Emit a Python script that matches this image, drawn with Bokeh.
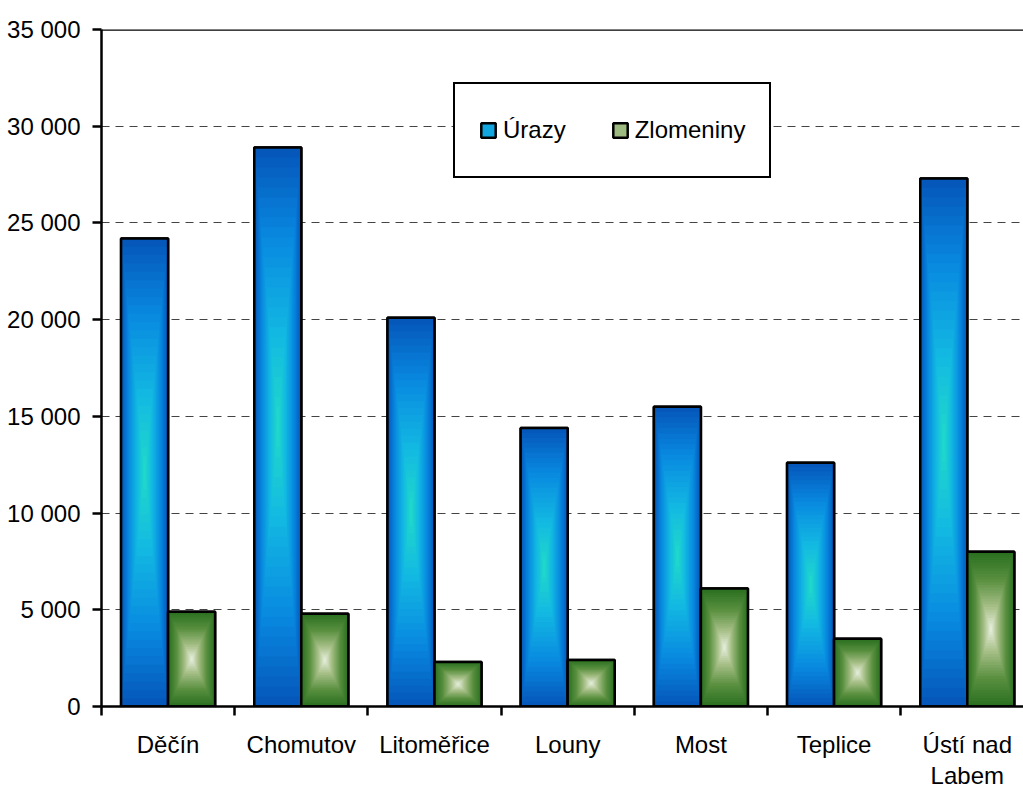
import numpy as np
from bokeh.plotting import figure
from bokeh.models import (FixedTicker, Legend, LegendItem, Span, Range1d)
from bokeh.embed import file_html
from bokeh.resources import INLINE

# ---- data ----
categories = ["Děčín", "Chomutov", "Litoměřice", "Louny", "Most", "Teplice", "Ústí nad\nLabem"]
urazy = [24200, 28900, 20100, 14400, 15500, 12600, 27300]
zlomeniny = [4900, 4800, 2300, 2400, 6100, 3500, 8000]
series_names = ["Úrazy", "Zlomeniny"]
y_ticks = [0, 5000, 10000, 15000, 20000, 25000, 30000, 35000]
y_tick_labels = ["0", "5 000", "10 000", "15 000", "20 000", "25 000", "30 000", "35 000"]

FONT = "Liberation Sans"
FS = "24px"

p = figure(width=1023, height=791, output_backend="svg", toolbar_location=None,
           x_range=Range1d(-0.5, 6.422), y_range=Range1d(0, 35000),
           min_border_left=101, min_border_right=0, min_border_top=29, min_border_bottom=0)
p.outline_line_color = None
p.background_fill_color = "white"
p.border_fill_color = "white"

bar_w = 0.353
off = 0.1765
xs = np.arange(len(categories), dtype=float)


def lerp_palette(stops, t):
    for i in range(len(stops) - 1):
        p0, c0 = stops[i]
        p1, c1 = stops[i + 1]
        if t <= p1:
            f = (t - p0) / (p1 - p0) if p1 > p0 else 0
            a = [int(c0[j:j + 2], 16) for j in (1, 3, 5)]
            b = [int(c1[j:j + 2], 16) for j in (1, 3, 5)]
            r = [round(a[k] + (b[k] - a[k]) * f) for k in range(3)]
            return "#%02x%02x%02x" % tuple(r)
    return stops[-1][1]


blue_stops = [(0, "#0558ba"), (0.3, "#0888e0"), (0.65, "#12b8e2"), (1.0, "#22dcc8")]
green_stops = [(0, "#2a7020"), (0.35, "#5a9040"), (0.7, "#a8c088"), (1.0, "#eaf2e2")]
swatch_colors = ["#12a6e0", "#9dbb80"]

N = 28
legend_renderers = []
for vals, dx, stops, sw in ((urazy, -off, blue_stops, swatch_colors[0]),
                            (zlomeniny, off, green_stops, swatch_colors[1])):
    vals = np.array(vals, dtype=float)
    cx = xs + dx
    cy = vals / 2
    base = p.quad(left=cx - bar_w / 2, right=cx + bar_w / 2, bottom=0, top=vals,
                  fill_color=sw, line_color="black", line_width=2.5)
    legend_renderers.append(base)
    for k in range(N):
        t = k / N
        s = 1 - t
        col = lerp_palette(stops, t)
        p.quad(left=cx - bar_w / 2 * s, right=cx + bar_w / 2 * s,
               bottom=cy - vals / 2 * s, top=cy + vals / 2 * s,
               fill_color=col, line_color=None)
    p.quad(left=cx - bar_w / 2, right=cx + bar_w / 2, bottom=0, top=vals,
           fill_color=None, line_color="black", line_width=2.5)

legend = Legend(items=[LegendItem(label=series_names[0], renderers=[legend_renderers[0]]),
                       LegendItem(label=series_names[1], renderers=[legend_renderers[1]])],
                orientation="horizontal", location=(352, 528),
                glyph_width=18, glyph_height=18, label_standoff=6, spacing=45,
                padding=24, label_height=44,
                label_text_font=FONT, label_text_font_size=FS, label_text_color="black",
                border_line_color="black", border_line_width=2.5, border_line_alpha=1.0,
                background_fill_color="white", background_fill_alpha=1.0)
p.add_layout(legend, "center")

# top frame line
p.add_layout(Span(location=35000, dimension="width", line_color="black", line_width=2.5))

# y axis
p.yaxis.ticker = FixedTicker(ticks=y_ticks)
p.yaxis.major_label_overrides = {v: l for v, l in zip(y_ticks, y_tick_labels)}
p.yaxis.major_label_text_font = FONT
p.yaxis.major_label_text_font_size = FS
p.yaxis.major_label_text_color = "black"
p.yaxis.major_tick_out = 9
p.yaxis.major_tick_in = 0
p.yaxis.major_tick_line_width = 2.5
p.yaxis.major_tick_line_color = "black"
p.yaxis.minor_tick_line_color = None
p.yaxis.axis_line_width = 2.5
p.yaxis.axis_line_color = "black"
p.yaxis.major_label_standoff = 12

# x axis
p.xaxis.ticker = FixedTicker(ticks=list(range(len(categories))),
                             minor_ticks=[i - 0.5 for i in range(len(categories) + 1)])
p.xaxis.major_label_overrides = {i: c for i, c in enumerate(categories)}
p.xaxis.major_label_text_font = FONT
p.xaxis.major_label_text_font_size = FS
p.xaxis.major_label_text_color = "black"
p.xaxis.major_label_text_line_height = 1.15
p.xaxis.major_tick_out = 0
p.xaxis.major_tick_in = 0
p.xaxis.major_tick_line_color = None
p.xaxis.minor_tick_out = 9
p.xaxis.minor_tick_in = 0
p.xaxis.minor_tick_line_width = 2.5
p.xaxis.minor_tick_line_color = "black"
p.xaxis.axis_line_width = 2.5
p.xaxis.axis_line_color = "black"
p.xaxis.major_label_standoff = 15

# grid
p.xgrid.grid_line_color = None
p.ygrid.ticker = FixedTicker(ticks=y_ticks[1:-1])
p.ygrid.grid_line_color = "#444444"
p.ygrid.grid_line_width = 1.2
p.ygrid.grid_line_dash = "8 6"
p.ygrid.level = "underlay"

open("out.html", "w").write(file_html(p, INLINE))
